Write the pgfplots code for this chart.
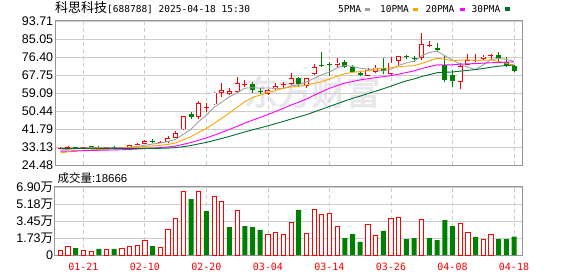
\documentclass[border=0pt]{standalone}
\usepackage{fontspec}
\setmainfont{Liberation Sans}
\newfontfamily\cjk{Noto Sans CJK SC}
\newfontfamily\cjkwm[FakeBold=2.5]{Noto Sans CJK SC}
\newfontfamily\mono{DejaVu Sans Mono}
\usepackage{pgfplots}
\usepackage{pgfplotstable}
\pgfplotsset{compat=1.18}
\definecolor{upred}{RGB}{255,0,0}
\definecolor{dngreen}{RGB}{0,128,0}
\definecolor{ma5}{RGB}{160,160,160}
\definecolor{ma10}{RGB}{255,165,0}
\definecolor{ma20}{RGB}{255,0,255}
\definecolor{ma30}{RGB}{0,110,50}
\definecolor{framec}{RGB}{150,150,150}
\definecolor{gridc}{RGB}{205,205,205}
\definecolor{wmc}{RGB}{232,232,236}

\pgfplotstableread{
i ma5 ma10 ma20 ma30
0 31.6 30.3 31.1 32.5
1 32.0 30.8 31.2 32.5
2 32.3 31.1 31.28 32.5
3 32.6 31.4 31.37 32.5
4 32.84 31.7 31.47 32.5
5 32.82 31.9 31.55 32.5
6 32.76 32.1 31.64 32.5
7 32.76 32.3 31.72 32.45
8 32.80 32.6 31.82 32.45
9 33.00 32.92 31.97 32.45
10 33.38 33.10 32.15 32.45
11 34.02 33.39 32.40 32.45
12 34.56 33.66 32.61 32.45
13 35.08 33.94 32.84 32.5
14 35.74 34.37 33.15 32.6
15 36.82 35.10 33.60 32.85
16 39.20 36.61 34.44 33.31
17 41.64 38.10 35.27 33.86
18 45.40 40.24 36.44 34.64
19 48.36 42.05 37.49 35.34
20 52.24 44.53 38.82 36.28
21 54.76 46.98 40.19 37.26
22 57.30 49.47 41.57 38.23
23 59.16 52.28 43.11 39.32
24 61.42 54.89 44.63 40.40
25 61.62 56.93 46.02 41.38
26 61.44 58.10 47.36 42.33
27 61.50 59.40 48.75 43.31
28 61.26 60.21 50.23 44.36
29 61.28 61.35 51.70 45.44
30 62.44 62.03 53.28 46.55
31 63.20 62.32 54.65 47.56
32 64.32 62.91 56.19 48.68
33 66.16 63.71 58.00 49.98
34 67.86 64.57 59.73 51.28
35 69.14 65.79 61.36 52.61
36 71.20 67.20 62.65 53.97
37 72.34 68.33 63.87 55.28
38 71.86 69.01 64.61 56.49
39 71.04 69.45 65.40 57.62
40 70.56 69.85 65.94 58.80
41 70.08 70.64 66.48 59.98
42 69.66 71.00 66.96 61.13
43 70.54 71.20 67.46 62.40
44 72.34 71.69 68.13 63.72
45 73.56 72.06 68.93 64.93
46 74.36 72.22 69.71 65.84
47 76.92 73.29 70.81 67.01
48 78.60 74.57 71.79 67.93
49 79.18 75.76 72.60 68.85
50 77.02 75.29 72.57 69.05
51 74.96 74.66 72.65 69.20
52 72.88 74.90 72.95 69.60
53 71.44 75.02 73.11 69.97
54 70.40 74.79 73.24 70.35
55 72.64 74.82 73.44 70.89
56 75.14 75.04 73.63 71.49
57 75.76 74.31 73.80 71.98
58 75.24 73.34 73.95 72.30
59 74.30 72.35 74.05 72.52
}\matable

% rising candles: index open high low close
\pgfplotstableread{
i O H L C
0 32.4 33.0 32.2 32.7
1 32.9 33.5 32.5 33.1
3 32.5 33.0 32.3 32.8
6 32.6 33.1 32.5 32.8
8 32.2 33.1 32.0 33.0
9 33.0 34.2 32.9 34.0
10 34.3 35.2 33.9 34.5
11 34.6 36.5 34.4 36.0
13 35.2 36.2 35.0 35.6
14 35.5 38.4 35.2 37.3
15 37.6 41.0 37.4 39.9
16 41.6 48.0 41.3 47.9
18 47.4 55.4 46.5 54.4
19 51.8 54.4 50.1 52.1
20 53.6 59.8 53.4 59.3
21 59.3 64.1 57.4 60.5
22 58.5 61.6 58.0 60.2
23 59.7 66.6 59.2 63.7
24 63.0 65.3 61.8 63.4
27 58.6 60.8 58.3 60.5
28 60.9 64.1 60.7 62.5
29 62.9 64.5 61.3 63.5
30 63.3 68.9 62.9 66.1
32 62.6 66.3 61.6 66.1
33 68.2 72.9 67.7 71.7
36 72.6 75.8 71.3 73.7
40 67.4 71.3 67.2 70.1
41 69.4 72.6 68.6 71.3
43 68.2 76.6 67.7 73.7
44 74.5 77.0 72.1 76.9
47 75.8 87.8 75.0 82.5
48 81.7 83.9 81.0 82.1
52 64.5 73.4 61.0 72.1
53 72.6 77.7 72.4 74.9
54 74.3 77.7 74.1 74.6
55 75.3 77.6 75.0 76.6
56 77.1 77.7 75.0 77.5
}\redc

% falling candles: index open high low close
\pgfplotstableread{
i O H L C
2 33.1 33.3 32.4 32.6
4 33.2 33.4 32.6 33.0
5 33.1 33.4 32.4 32.6
7 32.9 33.5 32.2 32.6
12 36.2 36.8 35.0 35.3
17 49.2 50.1 46.5 47.5
25 63.3 64.5 59.0 60.3
26 59.9 61.3 58.5 59.6
31 66.3 66.9 62.1 63.4
34 72.3 78.6 71.5 72.0
35 72.9 74.0 67.5 72.5
37 73.8 75.0 71.3 71.8
38 71.7 72.5 69.0 69.3
39 68.9 69.2 67.5 67.9
42 70.9 75.8 68.1 69.7
45 76.4 77.4 75.3 76.2
46 75.6 76.9 74.1 75.3
49 80.9 83.0 79.0 79.8
50 72.6 77.4 64.2 65.4
51 67.7 70.1 62.1 65.0
57 77.3 78.7 74.1 75.2
58 74.1 76.3 71.7 72.3
59 72.2 72.4 69.4 69.9
}\greenc

\pgfplotsset{
  kstyle/.style={
    scale only axis, width=467pt, anchor=south west,
    xmin=-0.69, xmax=60.04,
    xtick={3,11,19,27,35,43,51,59},
    axis line style={draw=framec, line width=1pt},
    major tick length=0pt, tick style={draw=none},
    xmajorgrids, ymajorgrids,
    x grid style={draw=gridc, line width=0.8pt, dash pattern=on 4pt off 3pt},
    y grid style={draw=gridc, line width=0.9pt},
    yticklabel style={font=\fontsize{12.5}{13}\selectfont, anchor=east, inner sep=0pt, xshift=-1.6pt},
  },
  eb/.style n args={2}{draw=none, mark=none, forget plot,
    error bars/.cd, y dir=plus, y explicit, error mark=none,
    error bar style={draw=#1, line width=#2, line cap=butt, solid}},
}

\begin{document}
\begin{tikzpicture}
\useasboundingbox (0,0) rectangle (578pt,276pt);
\fill[white] (0,0) rectangle (578pt,276pt);

% watermark
\node[text=wmc, font=\cjkwm\fontsize{34}{34}\selectfont, anchor=center, inner sep=0] at (312pt,184pt) {东方财富};

% price panel
\begin{axis}[kstyle, at={(55pt,111pt)}, height=144pt,
  ymin=24.48, ymax=93.71,
  ytick={24.48,33.13,41.79,50.44,59.09,67.75,76.40,85.05,93.71},
  yticklabels={24.48,33.13,41.79,50.44,59.09,67.75,76.40,85.05,93.71},
  xticklabels={},
]
% wicks
\addplot[eb={upred}{0.8pt}] table[x=i, y=L, y error plus expr={\thisrow{H}-\thisrow{L}}] {\redc};
\addplot[eb={dngreen}{0.8pt}] table[x=i, y=L, y error plus expr={\thisrow{H}-\thisrow{L}}] {\greenc};
% hollow rising bodies
\addplot[eb={upred}{5pt}] table[x=i, y=O, y error plus expr={max(\thisrow{C}-\thisrow{O},0.45)}] {\redc};
\addplot[eb={white}{3.4pt}] table[x=i, y expr={\thisrow{O}+0.4}, y error plus expr={max(\thisrow{C}-\thisrow{O}-0.8,0)}] {\redc};
% filled falling bodies
\addplot[eb={dngreen}{5pt}] table[x=i, y=C, y error plus expr={max(\thisrow{O}-\thisrow{C},0.45)}] {\greenc};
% moving averages
\addplot[ma5, line width=0.9pt, mark=none] table[x=i, y=ma5] {\matable};
\addplot[ma10, line width=0.9pt, mark=none] table[x=i, y=ma10] {\matable};
\addplot[ma20, line width=0.9pt, mark=none] table[x=i, y=ma20] {\matable};
\addplot[ma30, line width=0.9pt, mark=none] table[x=i, y=ma30] {\matable};
\end{axis}

% volume panel
\begin{axis}[kstyle, at={(55pt,21pt)}, height=68pt,
  ymin=0, ymax=6.90,
  ytick={0,1.725,3.45,5.175,6.90},
  yticklabels={0,{1.73{\cjk 万}},{3.45{\cjk 万}},{5.18{\cjk 万}},{6.90{\cjk 万}}},
  xticklabels={01-21,02-10,02-20,03-04,03-14,03-26,04-08,04-18},
  xticklabel style={font=\mono\fontsize{10}{10}\selectfont, text=upred, anchor=base, inner sep=0pt, yshift=-15pt},
]
\addplot[ybar, bar width=4.2pt, bar shift=0pt, draw=upred, fill=white, line width=0.8pt] coordinates {
(0,0.51) (1,0.88) (3,0.50) (4,0.41) (6,0.61) (8,0.71) (9,0.91) (10,0.98) (11,1.52) (13,0.78)
(14,2.61) (15,3.72) (16,6.46) (18,6.46) (20,5.95) (21,5.44) (23,4.53) (27,2.10) (28,2.30) (29,2.10)
(30,3.35) (32,2.23) (33,4.63) (34,4.16) (35,4.26) (36,2.91) (40,3.15) (41,2.00) (43,3.72) (44,3.86)
(47,3.62) (52,3.25) (53,2.33) (55,1.59) (56,2.10)
};
\addplot[ybar, bar width=5pt, bar shift=0pt, draw=none, fill=dngreen] coordinates {
(2,0.71) (5,0.61) (7,0.61) (12,0.91) (17,5.68) (19,4.46) (22,2.84) (24,2.94) (25,2.84) (26,2.54)
(31,4.57) (37,1.72) (38,2.13) (39,1.32) (42,2.44) (45,1.62) (46,1.72) (48,1.72) (49,1.52) (50,3.55)
(51,2.94) (54,1.83) (57,1.62) (58,1.62) (59,1.87)
};
\end{axis}

% title and legend
\node[anchor=base west, inner sep=0] at (55pt,263pt) {{\cjk\fontsize{13}{13}\selectfont 科思科技}{\mono\fontsize{9.5}{10}\selectfont [688788] 2025-04-18 15:30}};
\node[anchor=base west, inner sep=0, font=\mono\fontsize{9.5}{10}\selectfont] at (338pt,263.3pt) {5PMA};
\fill[ma5] (365pt,265.3pt) rectangle (370pt,268pt);
\node[anchor=base west, inner sep=0, font=\mono\fontsize{9.5}{10}\selectfont] at (380pt,263.3pt) {10PMA};
\fill[ma10] (413pt,265.3pt) rectangle (418pt,268pt);
\node[anchor=base west, inner sep=0, font=\mono\fontsize{9.5}{10}\selectfont] at (425.5pt,263.3pt) {20PMA};
\fill[ma20] (460pt,265.3pt) rectangle (465pt,268pt);
\node[anchor=base west, inner sep=0, font=\mono\fontsize{9.5}{10}\selectfont] at (471.5pt,263.3pt) {30PMA};
\fill[ma30] (505pt,265.3pt) rectangle (510pt,268.5pt);
\node[anchor=base west, inner sep=0] at (57.5pt,94pt) {{\cjk\fontsize{11.5}{12}\selectfont 成交量}\fontsize{11.5}{12}\selectfont:18666};
\end{tikzpicture}
\end{document}
